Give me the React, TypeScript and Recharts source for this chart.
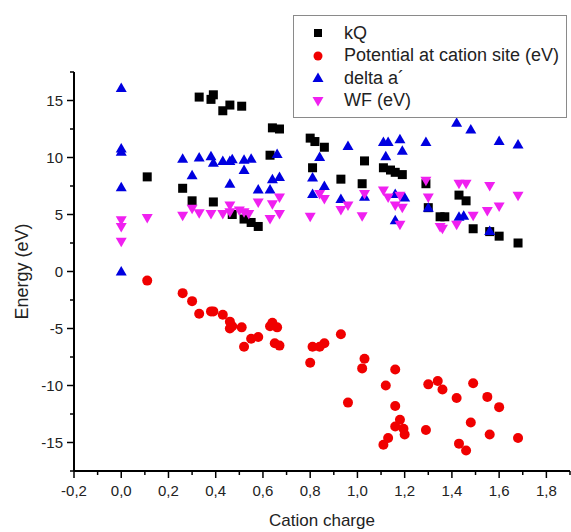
import { Legend, Scatter, ScatterChart, XAxis, YAxis } from "recharts";

// kQ (black squares)
const kqX = [0.11, 0.26, 0.30, 0.33, 0.38, 0.39, 0.39, 0.43, 0.46, 0.47, 0.51, 0.52, 0.55, 0.58, 0.63, 0.64, 0.67, 0.80, 0.81, 0.82, 0.86, 0.93, 1.02, 1.03, 1.11, 1.14, 1.16, 1.19, 1.29, 1.30, 1.35, 1.37, 1.43, 1.46, 1.49, 1.56, 1.60, 1.68];
const kqY = [8.3, 7.3, 6.2, 15.3, 15.1, 15.5, 6.1, 14.1, 14.6, 5.0, 14.5, 4.6, 4.3, 3.95, 10.2, 12.6, 12.5, 11.7, 9.1, 11.4, 10.9, 8.1, 7.7, 9.7, 9.1, 8.9, 8.7, 8.5, 7.7, 5.6, 4.8, 4.8, 6.7, 6.2, 3.75, 3.5, 3.1, 2.5];

// Potential at cation site (red circles)
const potX = [0.11, 0.26, 0.30, 0.33, 0.38, 0.39, 0.43, 0.46, 0.46, 0.47, 0.51, 0.52, 0.55, 0.58, 0.63, 0.64, 0.66, 0.65, 0.67, 0.80, 0.81, 0.84, 0.86, 0.93, 0.96, 1.02, 1.03, 1.11, 1.12, 1.13, 1.16, 1.16, 1.16, 1.18, 1.195, 1.20, 1.29, 1.30, 1.34, 1.36, 1.42, 1.43, 1.46, 1.48, 1.49, 1.55, 1.56, 1.60, 1.68];
const potY = [-0.8, -1.9, -2.6, -3.7, -3.5, -3.5, -3.8, -4.4, -5.0, -4.8, -4.9, -6.6, -5.9, -5.75, -4.8, -4.5, -4.9, -6.3, -6.5, -8.0, -6.6, -6.6, -6.3, -5.5, -11.5, -8.5, -7.65, -15.2, -10.0, -14.6, -8.6, -11.8, -13.6, -13.0, -13.8, -14.3, -13.9, -9.9, -9.6, -10.35, -11.1, -15.1, -15.7, -13.25, -9.8, -11.0, -14.3, -11.9, -14.6];

// delta a´ (blue triangles)
const deltaX = [0, 0, 0, 0, 0, 0.26, 0.30, 0.33, 0.38, 0.39, 0.43, 0.46, 0.46, 0.47, 0.52, 0.52, 0.55, 0.58, 0.63, 0.64, 0.66, 0.67, 0.81, 0.81, 0.84, 0.86, 0.93, 0.96, 1.03, 1.11, 1.13, 1.12, 1.16, 1.16, 1.18, 1.19, 1.20, 1.29, 1.30, 1.42, 1.43, 1.45, 1.48, 1.56, 1.60, 1.68];
const deltaY = [16.1, 10.8, 10.5, 7.4, 0.0, 9.9, 8.45, 10.0, 10.1, 9.55, 9.7, 9.7, 7.7, 9.85, 9.8, 8.9, 9.9, 7.2, 7.2, 8.1, 10.3, 8.3, 8.25, 6.8, 10.05, 7.5, 6.35, 11.0, 6.55, 11.35, 11.35, 10.1, 6.8, 4.5, 11.6, 10.6, 6.5, 11.35, 5.6, 13.05, 4.8, 4.9, 12.45, 3.55, 11.45, 11.15];

// WF (magenta down triangles)
const wfX = [0, 0, 0, 0.11, 0.26, 0.30, 0.33, 0.38, 0.43, 0.46, 0.46, 0.50, 0.52, 0.54, 0.58, 0.63, 0.64, 0.67, 0.67, 0.80, 0.84, 0.86, 0.93, 0.96, 1.02, 1.03, 1.11, 1.13, 1.16, 1.18, 1.18, 1.19, 1.29, 1.30, 1.35, 1.36, 1.42, 1.43, 1.46, 1.49, 1.55, 1.56, 1.60, 1.68];
const wfY = [4.5, 3.9, 2.6, 4.7, 4.9, 5.5, 5.1, 5.05, 5.05, 5.8, 5.2, 5.35, 5.2, 5.05, 6.05, 4.6, 5.9, 6.5, 5.05, 4.8, 6.8, 6.35, 5.4, 5.8, 4.85, 6.8, 7.1, 6.5, 5.8, 6.65, 4.1, 5.6, 7.95, 6.5, 3.9, 3.75, 4.1, 7.7, 7.7, 4.9, 5.3, 7.5, 5.7, 6.65];

const xMajor = [-0.2, 0, 0.2, 0.4, 0.6, 0.8, 1.0, 1.2, 1.4, 1.6, 1.8];
const xMinor = [-0.1, 0.1, 0.3, 0.5, 0.7, 0.9, 1.1, 1.3, 1.5, 1.7, 1.9];
const yMajor = [-15, -10, -5, 0, 5, 10, 15];
const yMinor = [-17.5, -12.5, -7.5, -2.5, 2.5, 7.5, 12.5, 17.5];

const zip = (xs: number[], ys: number[]) => xs.map((x, i) => ({ x, y: ys[i] }));
const kqData = zip(kqX, kqY);
const potData = zip(potX, potY);
const deltaData = zip(deltaX, deltaY);
const wfData = zip(wfX, wfY);

const FONT = "'Liberation Sans', Arial, sans-serif";
const BLACK = "#000000";
const RED = "#f00000";
const BLUE = "#0000e0";
const MAGENTA = "#f020f0";

const isMajor = (v: number, majors: number[]) => majors.some((m) => Math.abs(m - v) < 1e-6);
const fmtX = (v: number) => v.toFixed(1).replace(".", ",");

const XTick = (props: any) => {
  const { x, y, payload } = props;
  const major = isMajor(payload.value, xMajor);
  return (
    <g>
      <line x1={x} x2={x} y1={y} y2={y + (major ? 7 : 4)} stroke="#000" strokeWidth={1.5} />
      {major && (
        <text x={x} y={y + 25} textAnchor="middle" fontSize={15} fontFamily={FONT} fill="#222">
          {fmtX(payload.value)}
        </text>
      )}
    </g>
  );
};

const YTick = (props: any) => {
  const { x, y, payload } = props;
  const major = isMajor(payload.value, yMajor);
  return (
    <g>
      <line x1={x} x2={x - (major ? 7 : 4)} y1={y} y2={y} stroke="#000" strokeWidth={1.5} />
      {major && (
        <text x={x - 11} y={y + 5} textAnchor="end" fontSize={15} fontFamily={FONT} fill="#222">
          {payload.value}
        </text>
      )}
    </g>
  );
};

const Square = (p: any) => <rect x={p.cx - 4.5} y={p.cy - 4.5} width={9} height={9} fill={BLACK} />;
const Dot = (p: any) => <circle cx={p.cx} cy={p.cy} r={5} fill={RED} />;
const Up = (p: any) => (
  <polygon points={`${p.cx},${p.cy - 5.5} ${p.cx + 5.5},${p.cy + 4} ${p.cx - 5.5},${p.cy + 4}`} fill={BLUE} />
);
const Down = (p: any) => (
  <polygon points={`${p.cx},${p.cy + 5.5} ${p.cx + 5.5},${p.cy - 4} ${p.cx - 5.5},${p.cy - 4}`} fill={MAGENTA} />
);

const legendItems = [
  { name: "kQ", marker: <rect x={3} y={3} width={8} height={8} fill={BLACK} /> },
  { name: "Potential at cation site (eV)", marker: <circle cx={7} cy={7} r={4.5} fill={RED} /> },
  { name: "delta a´", marker: <polygon points="7,1.5 12.5,11 1.5,11" fill={BLUE} /> },
  { name: "WF (eV)", marker: <polygon points="7,12.5 12.5,3 1.5,3" fill={MAGENTA} /> },
];

const LegendBox = () => (
  <div
    style={{
      width: 272,
      height: 95,
      border: "1px solid #8a8a8a",
      background: "#fff",
      boxSizing: "content-box",
      paddingTop: 6,
      fontFamily: FONT,
    }}
  >
    {legendItems.map((it) => (
      <div key={it.name} style={{ display: "flex", alignItems: "center", height: 22.5 }}>
        <svg width={14} height={14} style={{ marginLeft: 17, marginRight: 19 }}>
          {it.marker}
        </svg>
        <span style={{ fontSize: 18, color: "#222", whiteSpace: "nowrap" }}>{it.name}</span>
      </div>
    ))}
  </div>
);

const YLabel = (props: any) => {
  const vb = props.viewBox;
  const cx = 22;
  const cy = vb.y + vb.height / 2;
  return (
    <text x={cx} y={cy} transform={`rotate(-90 ${cx} ${cy})`} textAnchor="middle" dominantBaseline="central" fontSize={18} fontFamily={FONT} fill="#222">
      Energy (eV)
    </text>
  );
};

export default function App() {
  return (
    <div style={{ position: "absolute", left: 0, top: 0, width: 571, height: 532, background: "#fff" }}>
      <ScatterChart width={571} height={532} margin={{ top: 72, right: 1, bottom: 0, left: 0 }}>
        <XAxis
          type="number"
          dataKey="x"
          domain={[-0.2, 1.9]}
          ticks={[...xMajor, ...xMinor].sort((a, b) => a - b)}
          interval={0}
          height={61}
          tickSize={0}
          tickMargin={0}
          tick={XTick}
          axisLine={{ stroke: "#000", strokeWidth: 2 }}
          allowDataOverflow
          label={{ value: "Cation charge", position: "insideBottom", offset: 6, fontSize: 17, fontFamily: FONT, fill: "#222" }}
        />
        <YAxis
          type="number"
          dataKey="y"
          domain={[-17.5, 17.5]}
          ticks={[...yMajor, ...yMinor].sort((a, b) => a - b)}
          interval={0}
          width={74}
          tickSize={0}
          tickMargin={0}
          tick={YTick}
          axisLine={{ stroke: "#000", strokeWidth: 2 }}
          allowDataOverflow
          label={{ content: YLabel }}
        />
        <Legend
          layout="vertical"
          align="center"
          verticalAlign="middle"
          wrapperStyle={{ top: 15, left: 293, width: 274 }}
          content={LegendBox}
        />
        <Scatter name="kQ" data={kqData} shape={Square} isAnimationActive={false} />
        <Scatter name="Potential at cation site (eV)" data={potData} shape={Dot} isAnimationActive={false} />
        <Scatter name="delta a´" data={deltaData} shape={Up} isAnimationActive={false} />
        <Scatter name="WF (eV)" data={wfData} shape={Down} isAnimationActive={false} />
      </ScatterChart>
    </div>
  );
}
